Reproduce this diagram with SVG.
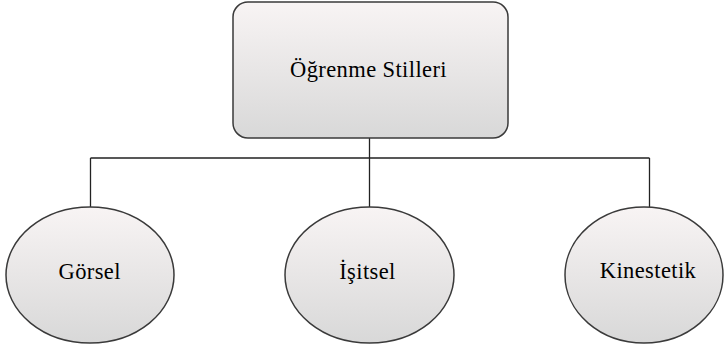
<svg xmlns="http://www.w3.org/2000/svg" width="724" height="347" viewBox="0 0 724 347">
<defs>
<linearGradient id="g" x1="0" y1="0" x2="0" y2="1">
<stop offset="0" stop-color="#f8f4f4"/>
<stop offset="1" stop-color="#d8d8d8"/>
</linearGradient>
<style>
.n{fill:url(#g);stroke:#3a3a3a;stroke-width:1.5}
.c{fill:none;stroke:#222;stroke-width:1.3}
.t{font-family:"Liberation Serif","Times New Roman",serif;font-size:22.5px;fill:#000;text-anchor:middle;letter-spacing:0.4px}
</style>
</defs>
<rect width="724" height="347" fill="#fff"/>
<g id="connectors">
<path class="c" d="M369.5,138 V207 M90.5,158 H649.5 M90.5,158 V207 M649.5,158 V207"/>
</g>
<g id="root">
<rect class="n" x="233" y="2" width="275" height="136" rx="15"/>
<text class="t" x="368.5" y="77">Öğrenme Stilleri</text>
</g>
<g id="gorsel">
<ellipse class="n" cx="90" cy="275" rx="84" ry="68"/>
<text class="t" x="89.7" y="278.5">Görsel</text>
</g>
<g id="isitsel">
<ellipse class="n" cx="369.5" cy="275" rx="84.5" ry="68"/>
<text class="t" x="367.5" y="278.5">İşitsel</text>
</g>
<g id="kinestetik">
<ellipse class="n" cx="644" cy="275" rx="79" ry="68"/>
<text class="t" x="648" y="277.5">Kinestetik</text>
</g>
</svg>
